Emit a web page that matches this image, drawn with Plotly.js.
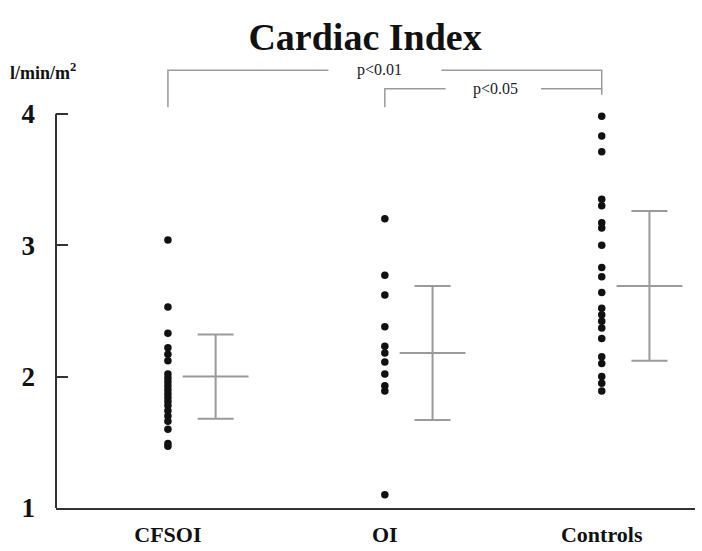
<!DOCTYPE html>
<html>
<head>
<meta charset="utf-8">
<script src="https://cdn.plot.ly/plotly-3.0.1.min.js"></script>
<style>html,body{margin:0;padding:0;background:#fff;}#chart{width:702px;height:551px;}</style>
</head>
<body>
<div id="chart"></div>
<script>
// ---- data ----
const categories = ["CFSOI", "OI", "Controls"];
const cfsoiValues = [3.04, 2.53, 2.33, 2.22, 2.17, 2.12, 2.02, 1.99, 1.96, 1.93, 1.90, 1.87, 1.84, 1.81, 1.78, 1.74, 1.70, 1.66, 1.60, 1.49, 1.47];
const oiValues = [3.20, 2.77, 2.62, 2.38, 2.23, 2.18, 2.11, 2.02, 1.93, 1.89, 1.10];
const controlsValues = [3.98, 3.83, 3.71, 3.35, 3.30, 3.17, 3.13, 3.00, 2.83, 2.76, 2.64, 2.52, 2.47, 2.42, 2.37, 2.29, 2.15, 2.10, 2.00, 1.95, 1.89];
const groupMeans = [2.00, 2.18, 2.69];
const groupSD = [0.32, 0.51, 0.57];
const yTickVals = [1, 2, 3, 4];
const comparisons = [
  {from: 0, to: 2, level: 4.33, label: "p<0.01"},
  {from: 1, to: 2, level: 4.19, label: "p<0.05"}
];

// ---- drawing ----
const serif = "'Liberation Serif', serif";
const grey = "#9a9a9a";
const errOffset = 0.22;
const groups = [cfsoiValues, oiValues, controlsValues];

const traces = [];
groups.forEach((vals, i) => {
  traces.push({
    type: "scatter", mode: "markers",
    x: vals.map(() => i), y: vals,
    marker: {color: "#111", size: 7.5},
    hoverinfo: "y", showlegend: false
  });
});
traces.push({
  type: "scatter", mode: "markers",
  x: categories.map((c, i) => i + errOffset), y: groupMeans,
  marker: {symbol: "line-ew", size: 47, color: grey, line: {color: grey, width: 2}},
  error_y: {type: "data", array: groupSD, visible: true, color: grey, thickness: 2, width: 18},
  showlegend: false, hoverinfo: "y"
});

// comparison brackets
const annotations = [];
const gapHalf = [0.26, 0.22];
const legBottom = 4.05, rightBottom = 4.145;
comparisons.forEach((c, k) => {
  const mid = (c.from + c.to) / 2;
  const g = gapHalf[k];
  traces.push({
    type: "scatter", mode: "lines",
    x: [c.from, c.from, mid - g, null, mid + g, c.to, c.to],
    y: [legBottom, c.level, c.level, null, c.level, c.level, k === 0 ? comparisons[1].level : rightBottom],
    line: {color: grey, width: 1.5}, hoverinfo: "skip", showlegend: false, cliponaxis: false
  });
  annotations.push({
    x: mid - (k === 0 ? 0.025 : -0.01), y: c.level, xref: "x", yref: "y",
    text: c.label, showarrow: false, xanchor: "center", yanchor: "middle",
    font: {family: serif, size: 16, color: "#222"}
  });
});
annotations.push({
  x: -0.075, y: 0.948, xref: "paper", yref: "paper", xanchor: "left", yanchor: "middle",
  text: "l/min/m<sup>2</sup>", showarrow: false,
  font: {family: serif, size: 18, color: "#111", weight: "bold"}
});

const layout = {
  width: 702, height: 551,
  margin: {l: 56, r: 7, t: 48, b: 43},
  paper_bgcolor: "#fff", plot_bgcolor: "#fff",
  font: {family: serif},
  title: {
    text: "Cardiac Index", xref: "container", yref: "container",
    x: 0.52, y: 0.934, xanchor: "center", yanchor: "middle",
    font: {family: serif, size: 38, color: "#111", weight: "bold"}
  },
  xaxis: {
    range: [-0.516, 2.43], showgrid: false, zeroline: false,
    showline: true, linecolor: "#333", linewidth: 2,
    tickvals: categories.map((c, i) => i), ticktext: categories, ticks: "",
    ticklabelstandoff: 6,
    tickfont: {family: serif, size: 22, color: "#111", weight: "bold"}
  },
  yaxis: {
    range: [1, 4.5], showgrid: false, zeroline: false, showline: false,
    tickvals: yTickVals, ticktext: yTickVals.map(String),
    ticks: "inside", ticklen: 12, tickwidth: 2, tickcolor: "#333",
    ticklabelstandoff: 20,
    tickfont: {family: serif, size: 27, color: "#111", weight: "bold"}
  },
  shapes: [{
    type: "line", xref: "paper", yref: "y", x0: 0, x1: 0,
    y0: yTickVals[0], y1: yTickVals[yTickVals.length - 1],
    line: {color: "#333", width: 2}
  }],
  annotations: annotations
};

Plotly.newPlot("chart", traces, layout, {displayModeBar: false, staticPlot: true});
</script>
</body>
</html>
